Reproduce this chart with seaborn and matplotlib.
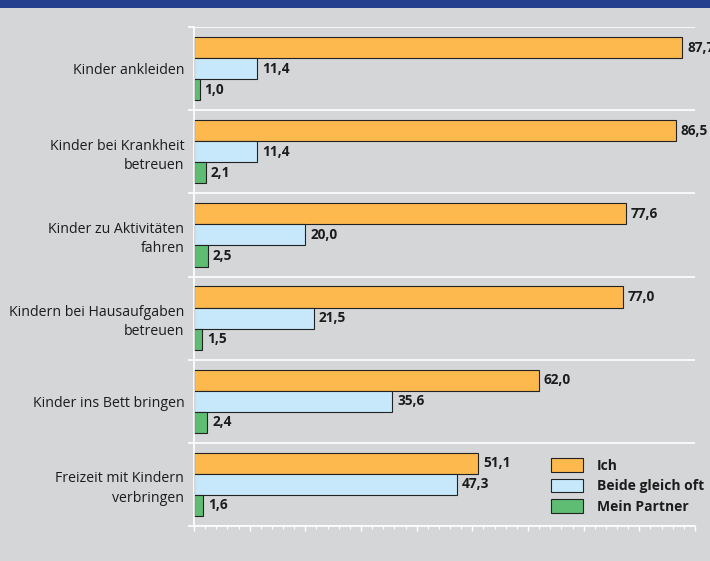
import matplotlib
matplotlib.use("Agg")
import matplotlib.pyplot as plt
from matplotlib.patches import Patch, Rectangle
from matplotlib.ticker import MultipleLocator
import seaborn as sns
import pandas as pd

# Aufgaben der Kinderbetreuung
activities = [
    "Kinder ankleiden",
    "Kinder bei Krankheit\nbetreuen",
    "Kinder zu Aktivitäten\nfahren",
    "Kindern bei Hausaufgaben\nbetreuen",
    "Kinder ins Bett bringen",
    "Freizeit mit Kindern\nverbringen",
]
series = ["Ich", "Beide gleich oft", "Mein Partner"]
ich = [87.7, 86.5, 77.6, 77.0, 62.0, 51.1]
beide = [11.4, 11.4, 20.0, 21.5, 35.6, 47.3]
partner = [1.0, 2.1, 2.5, 1.5, 2.4, 1.6]

colors = ["#fdb94e", "#c6e8fa", "#5fbd73"]
bg = "#d5d6d8"
ink = "#1c1c1c"

rows = []
for name, vals in zip(series, [ich, beide, partner]):
    for act, v in zip(activities, vals):
        rows.append({"Aufgabe": act, "Antwort": name, "Anteil": v})
df = pd.DataFrame(rows)

sns.set_theme(style="white")
plt.rcParams["font.family"] = ["Open Sans", "DejaVu Sans"]

fig = plt.figure(figsize=(7.1, 5.61), dpi=100, facecolor=bg)
ax = fig.add_axes([194 / 710, 1 - 526 / 561, (695 - 194) / 710, (526 - 27) / 561])
ax.set_facecolor(bg)

sns.barplot(
    data=df, y="Aufgabe", x="Anteil", hue="Antwort", order=activities,
    hue_order=series, palette=colors, orient="h", width=0.76,
    edgecolor="#222222", linewidth=0.8, saturation=1, legend=False, ax=ax,
)

# Werte an den Balken
for container in ax.containers:
    labels = [f"{w:.1f}".replace(".", ",") for w in container.datavalues]
    ax.bar_label(container, labels=labels, padding=3.5, fontsize=9.8,
                 fontweight="bold", color=ink)

ax.set_xlim(0, 90)
ax.set_ylim(5.5, -0.5)
ax.set_xlabel("")
ax.set_ylabel("")

# Achsen und Trennlinien
ax.xaxis.set_major_locator(MultipleLocator(10))
ax.xaxis.set_minor_locator(MultipleLocator(2))
ax.tick_params(axis="x", which="major", length=3.5, width=1, color="white",
               labelbottom=False, bottom=True)
ax.tick_params(axis="x", which="minor", length=2, width=0.8, color="white",
               bottom=True)

ax.set_yticks([i - 0.5 for i in range(len(activities) + 1)])
ax.set_yticklabels([])
ax.set_yticks(range(len(activities)), minor=True)
ax.set_yticklabels(activities, minor=True, fontsize=10.2, color=ink,
                   linespacing=1.4)
ax.tick_params(axis="y", which="major", length=4, width=1.2, color="white",
               left=True)
ax.tick_params(axis="y", which="minor", length=0, pad=7)
ax.yaxis.grid(True, which="major", color="white", linewidth=1.2)
ax.xaxis.grid(False)
ax.set_axisbelow(True)

for side in ["top", "right"]:
    ax.spines[side].set_visible(False)
for side in ["left", "bottom"]:
    ax.spines[side].set_color("white")
    ax.spines[side].set_linewidth(1.2)

handles = [Patch(facecolor=c, edgecolor="#222222", linewidth=0.8) for c in colors]
leg = fig.legend(handles, series, loc="center left",
                 bbox_to_anchor=(551 / 710, 1 - 486 / 561),
                 frameon=False, handlelength=2.3, handleheight=1.15,
                 handletextpad=1.0, labelspacing=0.42, borderaxespad=0,
                 borderpad=0, prop={"weight": "bold", "size": 10})
for t in leg.get_texts():
    t.set_color(ink)

# Titelband oben
fig.patches.append(Rectangle((0, 1 - 7.5 / 561), 1, 7.5 / 561,
                             transform=fig.transFigure, facecolor="#243f8e",
                             edgecolor="none", zorder=0))

fig.savefig("out.png", dpi=100, facecolor=bg)
